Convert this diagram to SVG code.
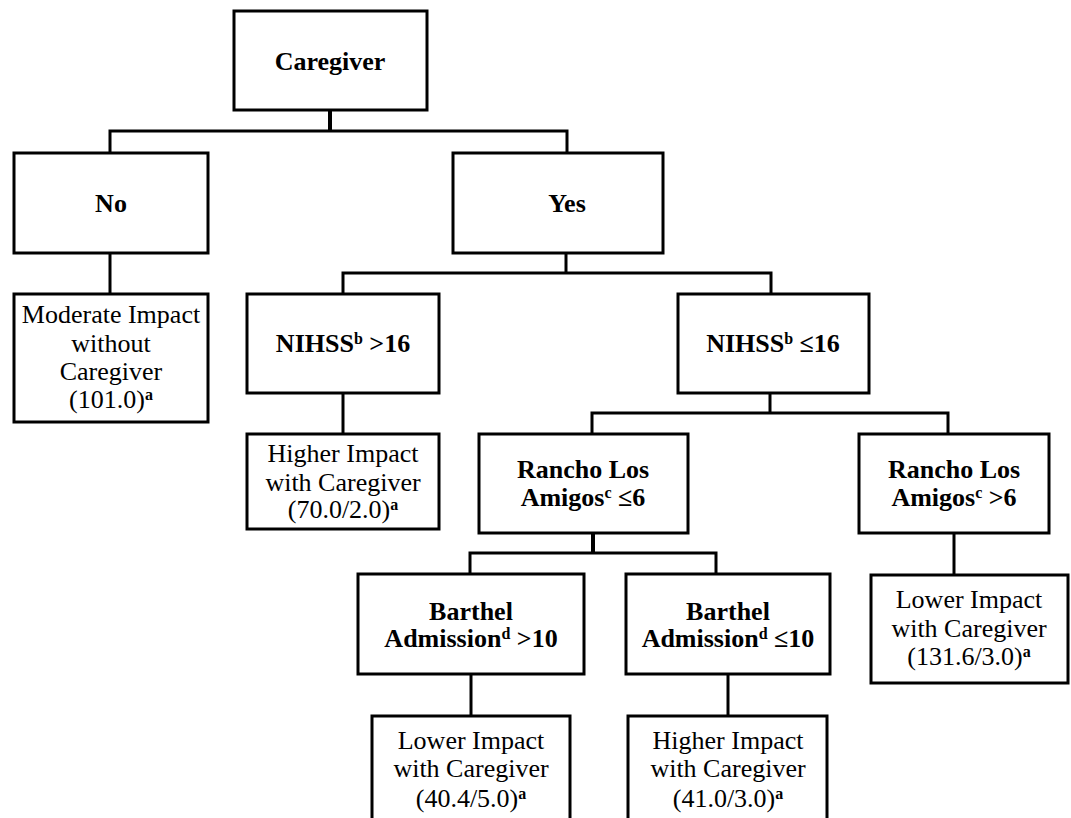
<svg xmlns="http://www.w3.org/2000/svg" width="1071" height="818" viewBox="0 0 1071 818">
<style>
.box{fill:#fff;stroke:#000;stroke-width:3}
.ln{fill:none;stroke:#000;stroke-width:3}
.thick{stroke-width:4}
.t text{font-size:26px;fill:#000;text-anchor:middle}
.b{font-weight:bold}
.sup{font-size:16px}
</style>
<rect width="1071" height="818" fill="#fff"/>
<g id="connectors">
<path class="ln thick" d="M330 110V131"/>
<path class="ln" d="M110 153V131H567V153"/>
<path class="ln" d="M110 253V294"/>
<path class="ln" d="M566 253V273"/>
<path class="ln" d="M343 294V273H771V294"/>
<path class="ln" d="M343 393V434"/>
<path class="ln" d="M770 393V413"/>
<path class="ln" d="M592 434V413H948V434"/>
<path class="ln" d="M954 533V575"/>
<path class="ln thick" d="M593 533V553"/>
<path class="ln" d="M470 574V553H716V574"/>
<path class="ln" d="M471 674V716"/>
<path class="ln" d="M728 674V716"/>
</g>
<g class="t" font-family="Liberation Serif, Times New Roman, Times, Noto Serif, serif">
<g id="caregiver"><rect class="box" x="234" y="11" width="193" height="99"/><text class="b" x="330" y="70">Caregiver</text></g>
<g id="no"><rect class="box" x="14" y="153" width="194" height="100"/><text class="b" x="111" y="212">No</text></g>
<g id="yes"><rect class="box" x="453" y="153" width="210" height="100"/><text class="b" x="567" y="212">Yes</text></g>
<g id="moderate"><rect class="box" x="14" y="294" width="194" height="128"/>
<text x="111" y="323">Moderate Impact</text><text x="111" y="352">without</text><text x="111" y="380">Caregiver</text><text x="111" y="408">(101.0)<tspan class="sup b" baseline-shift="super">a</tspan></text></g>
<g id="nihss-gt16"><rect class="box" x="247" y="294" width="192" height="99"/><text class="b" x="343" y="352">NIHSS<tspan class="sup" baseline-shift="super">b</tspan> &gt;16</text></g>
<g id="nihss-le16"><rect class="box" x="678" y="294" width="191" height="99"/><text class="b" x="773" y="352">NIHSS<tspan class="sup" baseline-shift="super">b</tspan> ≤16</text></g>
<g id="higher70"><rect class="box" x="247" y="434" width="192" height="95"/>
<text x="343" y="462">Higher Impact</text><text x="343" y="491">with Caregiver</text><text x="343" y="518">(70.0/2.0)<tspan class="sup b" baseline-shift="super">a</tspan></text></g>
<g id="rancho-le6"><rect class="box" x="479" y="434" width="209" height="99"/>
<text class="b" x="583" y="478">Rancho Los</text><text class="b" x="583" y="506">Amigos<tspan class="sup" baseline-shift="super">c</tspan> ≤6</text></g>
<g id="rancho-gt6"><rect class="box" x="859" y="434" width="190" height="99"/>
<text class="b" x="954" y="478">Rancho Los</text><text class="b" x="954" y="506">Amigos<tspan class="sup" baseline-shift="super">c</tspan> &gt;6</text></g>
<g id="lower131"><rect class="box" x="871" y="575" width="197" height="108"/>
<text x="969" y="608">Lower Impact</text><text x="969" y="637">with Caregiver</text><text x="969" y="665">(131.6/3.0)<tspan class="sup b" baseline-shift="super">a</tspan></text></g>
<g id="barthel-gt10"><rect class="box" x="358" y="574" width="226" height="100"/>
<text class="b" x="471" y="620">Barthel</text><text class="b" x="471" y="647">Admission<tspan class="sup" baseline-shift="super">d</tspan> &gt;10</text></g>
<g id="barthel-le10"><rect class="box" x="626" y="574" width="204" height="100"/>
<text class="b" x="728" y="620">Barthel</text><text class="b" x="728" y="647">Admission<tspan class="sup" baseline-shift="super">d</tspan> ≤10</text></g>
<g id="lower40"><rect class="box" x="372" y="716" width="198" height="110"/>
<text x="471" y="749">Lower Impact</text><text x="471" y="777">with Caregiver</text><text x="471" y="807">(40.4/5.0)<tspan class="sup b" baseline-shift="super">a</tspan></text></g>
<g id="higher41"><rect class="box" x="628" y="716" width="199" height="110"/>
<text x="728" y="749">Higher Impact</text><text x="728" y="777">with Caregiver</text><text x="728" y="807">(41.0/3.0)<tspan class="sup b" baseline-shift="super">a</tspan></text></g>
</g>
</svg>
